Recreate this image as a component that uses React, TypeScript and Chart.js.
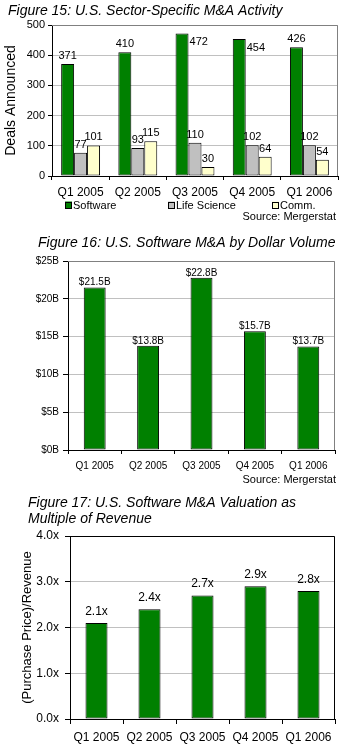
import React, { useEffect, useRef } from "react";
import { Chart, registerables } from "chart.js";

Chart.register(...registerables);

const FONT = '"Liberation Sans", Arial, sans-serif';
Chart.defaults.font.family = FONT;
Chart.defaults.color = "#000";

// ---------- data ----------
const quarters = ["Q1 2005", "Q2 2005", "Q3 2005", "Q4 2005", "Q1 2006"];
const softwareDeals = [371, 410, 472, 454, 426];
const lifeScienceDeals = [77, 93, 110, 102, 102];
const commDeals = [101, 115, 30, 64, 54];
const dollarVolumeB = [21.5, 13.8, 22.8, 15.7, 13.7];
const revenueMultiple = [2.1, 2.4, 2.7, 2.9, 2.8];

const GREEN = "#008000";
const GRAY = "#C0C0C0";
const YELLOW = "#FFFFCC";
const GRID = "#C0C0C0";

// ---------- plugins ----------
type TextItem = { text: string; x: number; y: number; font: string; align?: CanvasTextAlign };

const textPlugin = (items: TextItem[]) => ({
  id: "staticText",
  afterDraw(chart: any) {
    const ctx = chart.ctx;
    ctx.save();
    ctx.fillStyle = "#000";
    ctx.textBaseline = "alphabetic";
    items.forEach((it) => {
      ctx.font = it.font;
      ctx.textAlign = it.align || "left";
      ctx.fillText(it.text, it.x, it.y);
    });
    ctx.restore();
  },
});

const framePlugin = (color: string) => ({
  id: "frame",
  afterDatasetsDraw(chart: any) {
    const { left, right, top, bottom } = chart.chartArea;
    const ctx = chart.ctx;
    ctx.save();
    ctx.strokeStyle = color;
    ctx.lineWidth = 1;
    const t = Math.round(top) + 0.5;
    const r = Math.round(right) - 0.5;
    ctx.beginPath();
    ctx.moveTo(Math.round(left), t);
    ctx.lineTo(r, t);
    ctx.lineTo(r, Math.round(bottom));
    ctx.stroke();
    ctx.restore();
  },
});

const valueLabelPlugin = (
  font: string,
  fmt: (v: number) => string,
  gap: number,
  sideNearTop: boolean
) => ({
  id: "valueLabels",
  afterDatasetsDraw(chart: any) {
    const ctx = chart.ctx;
    ctx.save();
    ctx.font = font;
    ctx.fillStyle = "#000";
    ctx.textBaseline = "alphabetic";
    chart.data.datasets.forEach((ds: any, i: number) => {
      const meta = chart.getDatasetMeta(i);
      meta.data.forEach((bar: any, j: number) => {
        const v = ds.data[j] as number;
        const txt = fmt(v);
        const { x, y, width } = bar.getProps(["x", "y", "width"], true);
        if (sideNearTop && y < chart.chartArea.top + 16) {
          ctx.textAlign = "left";
          ctx.fillText(txt, x + width / 2 + 1, y + 12);
        } else {
          ctx.textAlign = "center";
          ctx.fillText(txt, x, y - gap);
        }
      });
    });
    ctx.restore();
  },
});

const legendPlugin = (xs: number[], y: number, font: string, box: number) => ({
  id: "customLegend",
  afterDraw(chart: any) {
    const ctx = chart.ctx;
    ctx.save();
    ctx.font = font;
    ctx.textBaseline = "middle";
    ctx.textAlign = "left";
    chart.data.datasets.forEach((ds: any, i: number) => {
      const x = xs[i];
      ctx.fillStyle = ds.backgroundColor;
      ctx.fillRect(x, y - box / 2, box, box);
      ctx.strokeStyle = "#000";
      ctx.lineWidth = 1;
      ctx.strokeRect(x + 0.5, Math.round(y - box / 2) + 0.5, box - 1, box - 1);
      ctx.fillStyle = "#000";
      ctx.fillText(ds.label, x + box + 1, y + 1);
    });
    ctx.restore();
  },
});

const gridColor = (c: any) => (c.tick && c.tick.value === 0 ? "rgba(0,0,0,0)" : GRID);

// ---------- configs ----------
const barStyle = { borderColor: "#000", borderWidth: 1, borderSkipped: false as const };

function config1(): any {
  return {
    type: "bar",
    data: {
      labels: quarters,
      datasets: [
        { label: "Software", data: softwareDeals, backgroundColor: GREEN, ...barStyle, categoryPercentage: 0.68, barPercentage: 1 },
        { label: "Life Science", data: lifeScienceDeals, backgroundColor: GRAY, ...barStyle, categoryPercentage: 0.68, barPercentage: 1 },
        { label: "Comm.", data: commDeals, backgroundColor: YELLOW, ...barStyle, categoryPercentage: 0.68, barPercentage: 1 },
      ],
    },
    options: {
      animation: false,
      responsive: false,
      maintainAspectRatio: false,
      layout: { padding: { top: 25, right: 4, left: 0, bottom: 0 } },
      plugins: { legend: { display: false }, title: { display: false }, tooltip: { enabled: false } },
      scales: {
        x: {
          grid: { offset: true, drawOnChartArea: false, tickLength: 4, tickColor: "#000" },
          border: { color: "#000" },
          ticks: { font: { size: 12 }, color: "#000", padding: 5, maxRotation: 0, autoSkip: false },
          afterFit: (s: any) => { s.height = 46; },
        },
        y: {
          min: 0,
          max: 500,
          ticks: { stepSize: 100, font: { size: 11 }, color: "#000", padding: 3 },
          grid: { color: gridColor, tickLength: 4, tickColor: "#000" },
          border: { color: "#000" },
          title: { display: true, text: "Deals Announced", font: { size: 14 }, color: "#000", padding: { top: 3, bottom: 0 } },
          afterFit: (s: any) => { s.width = 52; },
        },
      },
    },
    plugins: [
      framePlugin("#808080"),
      valueLabelPlugin(`11px ${FONT}`, (v) => String(v), 5, true),
      legendPlugin([65, 168, 272], 205, `11px ${FONT}`, 7),
      textPlugin([
        { text: "Figure 15: U.S. Sector-Specific M&A Activity", x: 8, y: 15, font: `italic 14px ${FONT}` },
        { text: "Source: Mergerstat", x: 336, y: 220, font: `11px ${FONT}`, align: "right" },
      ]),
    ],
  };
}

function config2(): any {
  return {
    type: "bar",
    data: {
      labels: quarters,
      datasets: [
        { label: "Dollar Volume", data: dollarVolumeB, backgroundColor: GREEN, ...barStyle, categoryPercentage: 1, barPercentage: 0.41 },
      ],
    },
    options: {
      animation: false,
      responsive: false,
      maintainAspectRatio: false,
      layout: { padding: { top: 36, right: 7, left: 0, bottom: 0 } },
      plugins: { legend: { display: false }, title: { display: false }, tooltip: { enabled: false } },
      scales: {
        x: {
          grid: { offset: true, drawOnChartArea: false, tickLength: 4, tickColor: "#000" },
          border: { color: "#000" },
          ticks: { font: { size: 10 }, color: "#000", padding: 6, maxRotation: 0, autoSkip: false },
          afterFit: (s: any) => { s.height = 35; },
        },
        y: {
          min: 0,
          max: 25,
          ticks: { stepSize: 5, font: { size: 10 }, color: "#000", padding: 4, callback: (v: any) => `$${v}B` },
          grid: { color: gridColor, tickLength: 5, tickColor: "#000" },
          border: { color: "#000" },
          afterFit: (s: any) => { s.width = 68; },
        },
      },
    },
    plugins: [
      framePlugin("#808080"),
      valueLabelPlugin(`10px ${FONT}`, (v) => `$${v.toFixed(1)}B`, 2, false),
      textPlugin([
        { text: "Figure 16: U.S. Software M&A by Dollar Volume", x: 38, y: 22, font: `italic 14px ${FONT}` },
        { text: "Source: Mergerstat", x: 336, y: 258, font: `11px ${FONT}`, align: "right" },
      ]),
    ],
  };
}

function config3(): any {
  return {
    type: "bar",
    data: {
      labels: quarters,
      datasets: [
        { label: "Revenue Multiple", data: revenueMultiple, backgroundColor: GREEN, ...barStyle, categoryPercentage: 1, barPercentage: 0.415 },
      ],
    },
    options: {
      animation: false,
      responsive: false,
      maintainAspectRatio: false,
      layout: { padding: { top: 48, right: 7, left: 0, bottom: 0 } },
      plugins: { legend: { display: false }, title: { display: false }, tooltip: { enabled: false } },
      scales: {
        x: {
          grid: { offset: true, drawOnChartArea: false, tickLength: 5, tickColor: "#000" },
          border: { color: "#000" },
          ticks: { font: { size: 12 }, color: "#000", padding: 6, maxRotation: 0, autoSkip: false },
          afterFit: (s: any) => { s.height = 30; },
        },
        y: {
          min: 0,
          max: 4,
          ticks: { stepSize: 1, font: { size: 12 }, color: "#000", padding: 6, callback: (v: any) => `${Number(v).toFixed(1)}x` },
          grid: { color: gridColor, tickLength: 5, tickColor: "#000" },
          border: { color: "#000" },
          title: { display: true, text: "(Purchase Price)/Revenue", font: { size: 13 }, color: "#000", padding: { top: 20, bottom: 0 } },
          afterFit: (s: any) => { s.width = 70; },
        },
      },
    },
    plugins: [
      framePlugin("#000000"),
      valueLabelPlugin(`12px ${FONT}`, (v) => `${v.toFixed(1)}x`, 8, false),
      textPlugin([
        { text: "Figure 17: U.S. Software M&A Valuation as", x: 28, y: 19, font: `italic 14px ${FONT}` },
        { text: "Multiple of Revenue", x: 28, y: 35, font: `italic 14px ${FONT}` },
      ]),
    ],
  };
}

// ---------- components ----------
function ChartBox({ top, height, make }: { top: number; height: number; make: () => any }) {
  const ref = useRef<HTMLCanvasElement>(null);
  useEffect(() => {
    if (!ref.current) return;
    const chart = new Chart(ref.current, make());
    return () => chart.destroy();
  }, [make]);
  return (
    <div style={{ position: "absolute", left: 0, top, width: 342, height }}>
      <canvas ref={ref} width={342} height={height} style={{ display: "block", width: 342, height }} />
    </div>
  );
}

export default function App() {
  return (
    <div style={{ position: "absolute", left: 0, top: 0, width: 342, height: 749, background: "#fff", overflow: "hidden" }}>
      <ChartBox top={0} height={222} make={config1} />
      <ChartBox top={225} height={260} make={config2} />
      <ChartBox top={488} height={261} make={config3} />
    </div>
  );
}
